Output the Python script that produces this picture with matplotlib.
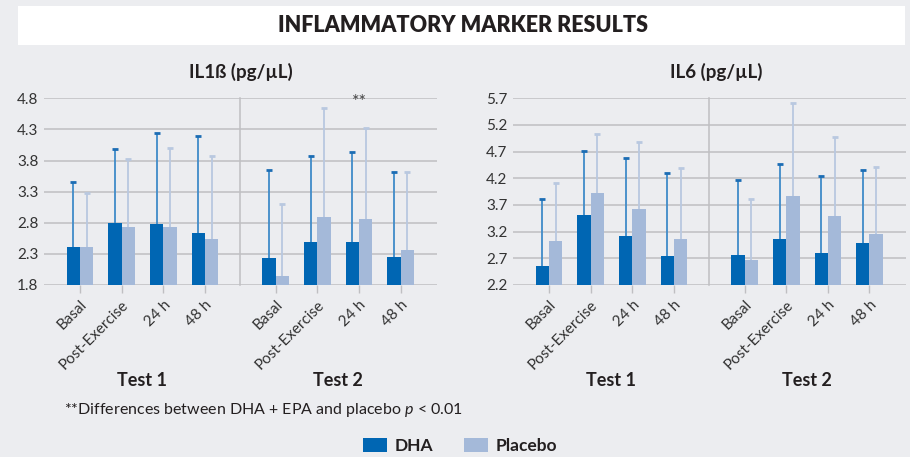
import numpy as np
import matplotlib
matplotlib.use("Agg")
import matplotlib.pyplot as plt
from matplotlib.patches import Rectangle
import matplotlib.transforms as mtransforms

plt.rcParams['font.family'] = ['Lato', 'DejaVu Sans']
plt.rcParams['mathtext.fontset'] = 'custom'
plt.rcParams['mathtext.rm'] = 'Lato'
plt.rcParams['mathtext.it'] = 'Lato:italic'

# ---------------- data ----------------
categories = ["Basal", "Post-Exercise", "24 h", "48 h"]
tests = ["Test 1", "Test 2"]

il1b_dha = [2.41, 2.80, 2.78, 2.64, 2.23, 2.49, 2.49, 2.25]
il1b_dha_sd = [1.05, 1.19, 1.47, 1.56, 1.41, 1.39, 1.45, 1.37]
il1b_pla = [2.41, 2.73, 2.73, 2.54, 1.94, 2.89, 2.86, 2.36]
il1b_pla_sd = [0.87, 1.10, 1.27, 1.34, 1.16, 1.75, 1.47, 1.25]

il6_dha = [2.56, 3.51, 3.12, 2.74, 2.76, 3.06, 2.80, 2.99]
il6_dha_sd = [1.26, 1.21, 1.46, 1.56, 1.40, 1.40, 1.45, 1.37]
il6_pla = [3.03, 3.93, 3.63, 3.06, 2.67, 3.87, 3.49, 3.16]
il6_pla_sd = [1.08, 1.10, 1.26, 1.34, 1.15, 1.75, 1.48, 1.25]

il1b_ticks = [1.8, 2.3, 2.8, 3.3, 3.8, 4.3, 4.8]
il6_ticks = [2.2, 2.7, 3.2, 3.7, 4.2, 4.7, 5.2, 5.7]

# ---------------- style ----------------
BG = "#ecedf0"
DHA_C = "#0066b3"
PLA_C = "#a4b9d9"
DHA_ERR = "#3f8bc9"
DHA_CAP = "#1c6db4"
PLA_ERR = "#b9c8e0"
GRID = "#bfbfc2"
TXT = "#231f20"

W, H = 910, 457
fig = plt.figure(figsize=(W / 100, H / 100), dpi=100, facecolor=BG)


def fx(px):
    return px / W


def fy(py):
    return 1 - py / H


# title band
fig.patches.append(Rectangle((fx(18), fy(44.7)), fx(905) - fx(18), fy(6) - fy(44.7),
                             transform=fig.transFigure, facecolor="white",
                             edgecolor="none", zorder=0))
fig.text(fx(463), fy(25), "INFLAMMATORY MARKER RESULTS", ha="center", va="center",
         fontsize=15.5, fontweight="heavy", color=TXT)

gap = 0.7
xpos = np.concatenate([np.arange(4), np.arange(4) + 4 + gap])
sep_x = 3.5 + gap / 2
bw = 0.32


def panel(left_px, right_px, dha, dsd, pla, psd, yt, title, title_x):
    ax = fig.add_axes([fx(left_px), fy(285), fx(right_px) - fx(left_px), fy(98.3) - fy(285)])
    ax.set_facecolor("none")
    ax.set_xlim(-0.864, 8.57)
    ax.set_ylim(yt[0], yt[-1])
    for s in ax.spines.values():
        s.set_visible(False)
    for t in yt:
        ax.axhline(t, color=GRID, lw=1.1, zorder=1)
    ax.plot([sep_x, sep_x], [yt[0], yt[-1]], color=GRID, lw=1.1, zorder=1, clip_on=False)
    base = yt[0]
    ax.bar(xpos - bw / 2, np.array(dha) - base, bottom=base, width=bw, color=DHA_C, zorder=3,
           linewidth=0)
    ax.bar(xpos + bw / 2, np.array(pla) - base, bottom=base, width=bw, color=PLA_C, zorder=3,
           linewidth=0)
    ax.errorbar(xpos - bw / 2, dha, yerr=[np.zeros(8), dsd], fmt="none", ecolor=DHA_ERR,
                elinewidth=1.3, capsize=0, zorder=2)
    ax.plot(xpos - bw / 2, np.array(dha) + np.array(dsd), ls="none", marker="_",
            markersize=5, mew=2, color=DHA_CAP, zorder=2)
    ax.errorbar(xpos + bw / 2, pla, yerr=[np.zeros(8), psd], fmt="none", ecolor=PLA_ERR,
                elinewidth=1.3, capsize=0, zorder=2)
    ax.plot(xpos + bw / 2, np.array(pla) + np.array(psd), ls="none", marker="_",
            markersize=5, mew=2, color=PLA_ERR, zorder=2)
    ax.set_yticks(yt)
    ax.set_yticklabels([f"{t:.1f}" for t in yt], fontsize=11, color="#333333")
    ax.tick_params(axis="y", length=0, pad=4)
    ax.set_xticks(xpos)
    ax.set_xticklabels(categories * 2, rotation=45, ha="right", va="top",
                       rotation_mode="anchor", fontsize=11, color="#333333")
    ax.tick_params(axis="x", length=6, width=1, color=GRID, pad=3)
    tr = mtransforms.blended_transform_factory(ax.transData, fig.transFigure)
    for gi, tname in enumerate(tests):
        cx = xpos[gi * 4:(gi + 1) * 4].mean()
        ax.text(cx, fy(380), tname, transform=tr, ha="center",
                va="center", fontsize=13, fontweight="bold", color=TXT)
    fig.text(fx(title_x), fy(72), title, ha="center", va="center", fontsize=13.5,
             fontweight="bold", color=TXT)
    return ax


axL = panel(44, 437, il1b_dha, il1b_dha_sd, il1b_pla, il1b_pla_sd, il1b_ticks,
            "IL1ß (pg/µL)", 241)
axR = panel(513, 905.7, il6_dha, il6_dha_sd, il6_pla, il6_pla_sd, il6_ticks,
            "IL6 (pg/µL)", 716)

axL.annotate("**", xy=(xpos[6], 4.8), xytext=(0, -3), textcoords="offset points",
             ha="center", va="center", fontsize=13, color="#444444", zorder=4)

fig.text(fx(64), fy(410), r"**Differences between DHA + EPA and placebo $p$ < 0.01",
         ha="left", va="center", fontsize=11.5, color=TXT)

# legend
for x0, col, lab, tx in [(363, DHA_C, "DHA", 395), (464, PLA_C, "Placebo", 496)]:
    fig.patches.append(Rectangle((fx(x0), fy(452)), fx(24), 14 / H,
                                 transform=fig.transFigure, facecolor=col,
                                 edgecolor="none"))
    fig.text(fx(tx), fy(446), lab, ha="left", va="center", fontsize=12.5,
             fontweight="bold", color=TXT)

fig.savefig("out.png", dpi=100, facecolor=BG)
